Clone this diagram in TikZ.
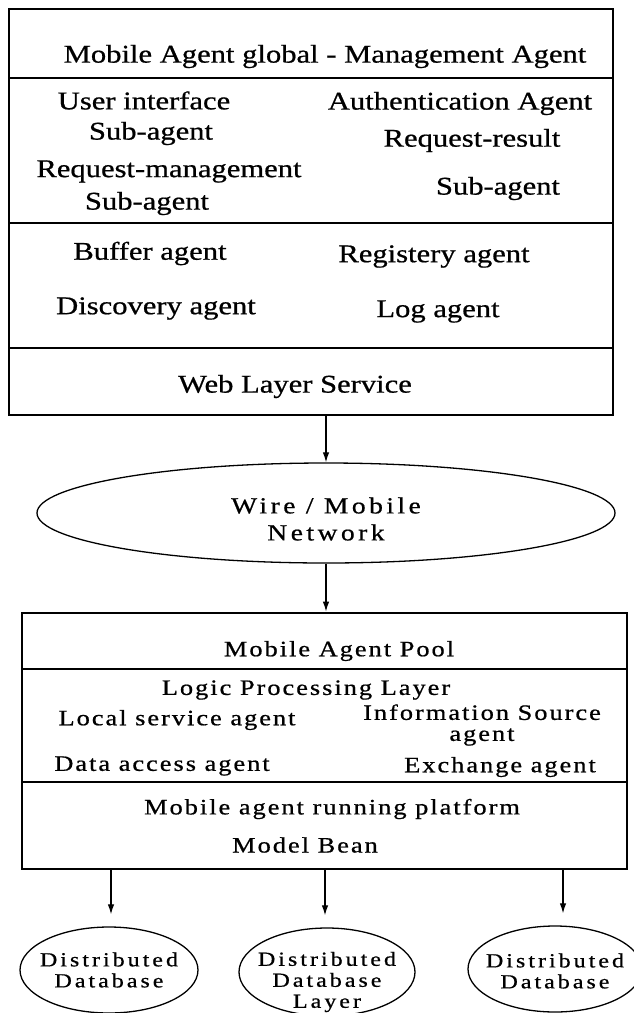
\documentclass[tikz,border=0pt]{standalone}
\usepackage{fontspec}
\setmainfont{Liberation Serif}
\newfontfamily\fa[FakeStretch=1.2,FakeBold=0.7]{Liberation Serif}
\newfontfamily\fb[FakeStretch=1.2,LetterSpace=9,FakeBold=0.7]{Liberation Serif}
\newfontfamily\fc[FakeStretch=1.2,LetterSpace=15,FakeBold=0.7]{Liberation Serif}
\usetikzlibrary{arrows.meta,shapes.geometric}
\begin{document}
\begin{tikzpicture}[x=1pt,y=-1pt,
  box/.style={draw,line width=2.8pt,inner sep=0pt},
  divider/.style={line width=1.6pt},
  ta/.style={font=\fa\fontsize{25.5}{28}\selectfont, inner sep=0pt, yshift=-3.5pt},
  tb/.style={font=\fb\fontsize{22}{24}\selectfont, inner sep=0pt, yshift=-2pt},
  tnet/.style={font=\fc\fontsize{23}{27}\selectfont, inner sep=0pt, align=center},
  tdb/.style={font=\fc\fontsize{20}{21}\selectfont, inner sep=0pt, align=center},
  oval/.style={draw, ellipse, line width=1.3pt, inner sep=0pt},
  arr/.style={line width=1.2pt, -{Latex[length=10pt,width=6.5pt]}}]
\useasboundingbox (0,0) rectangle (634,1013);

% ---- top box
\node[box, minimum width=604pt, minimum height=406pt] (top) at (311,212) {};
\draw[divider] (9,78) -- (613,78);
\draw[divider] (9,223) -- (613,223);
\draw[divider] (9,348) -- (613,348);

\node[ta] (t1) at (325,53) {Mobile Agent global - Management Agent};
\node[ta] (t2) at (144,97) {User interface};
\node[ta] (t3) at (151,130) {Sub-agent};
\node[ta] (t4) at (169,168) {Request-management};
\node[ta] (t5) at (147,200) {Sub-agent};
\node[ta] (t6) at (460,100) {Authentication Agent};
\node[ta] (t7) at (472,137) {Request-result};
\node[ta] (t8) at (498,185) {Sub-agent};
\node[ta] (t9) at (150,250) {Buffer agent};
\node[ta] (t10) at (434,253) {Registery agent};
\node[ta] (t11) at (156,305) {Discovery agent};
\node[ta] (t12) at (438,308) {Log agent};
\node[ta] (t13) at (295,383) {Web Layer Service};

% ---- network ellipse
\node[oval, minimum width=578pt, minimum height=100pt,
  label={[tnet,yshift=-6pt]center:{Wire / Mobile\\Network}}] (net) at (326,513) {};

% ---- bottom box
\node[box, minimum width=605pt, minimum height=256pt] (pool) at (324.5,741) {};
\draw[divider] (22,669) -- (627,669);
\draw[divider] (22,782) -- (627,782);

\node[tb] (b1) at (339,649) {Mobile Agent Pool};
\node[tb] (b2) at (306,688) {Logic Processing Layer};
\node[tb] (b3) at (177,718) {Local service agent};
\node[tb, align=center] (b4) at (482,723) {Information Source\\[-3pt]agent};
\node[tb] (b5) at (162,764) {Data access agent};
\node[tb] (b6) at (500,765) {Exchange agent};
\node[tb] (b7) at (332,807) {Mobile agent running platform};
\node[tb] (b8) at (305,843) {Model Bean};

% ---- databases
\node[oval, minimum width=178pt, minimum height=86pt,
  label={[tdb]center:{Distributed\\Database}}] (db1) at (109,970) {};
\node[oval, minimum width=176pt, minimum height=88pt,
  label={[tdb,yshift=-10pt]center:{Distributed\\Database\\Layer}}] (db2) at (327,972) {};
\node[oval, minimum width=174pt, minimum height=86pt,
  label={[tdb,yshift=-2pt]center:{Distributed\\Database}}] (db3) at (555,969) {};

% ---- connectors
\draw[arr] (net.north |- top.south) -- (net.north);
\draw[arr] (net.south) -- (net.south |- pool.north);
\draw[arr, shorten >=12pt] ([xshift=2pt]db1.north |- pool.south) -- ([xshift=2pt]db1.north);
\draw[arr, shorten >=12pt] ([xshift=-2pt]db2.north |- pool.south) -- ([xshift=-2pt]db2.north);
\draw[arr, shorten >=12pt] ([xshift=8pt]db3.north |- pool.south) -- ([xshift=8pt]db3.north);
\end{tikzpicture}
\end{document}
